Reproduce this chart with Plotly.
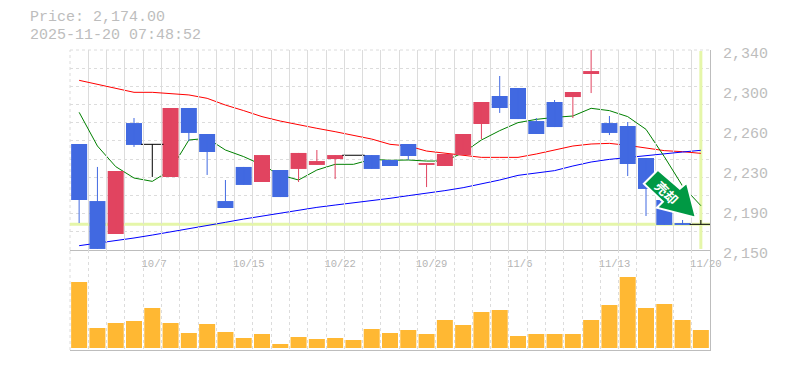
import plotly.graph_objects as go

# ---- data ----
opens = [2250.7,2196.5,2165.2,2270.6,2250.4,2219.4,2284.9,2260.2,2196.5,2228.9,2214.6,2226.0,2227.0,2230.8,2236.4,2240.0,2240.2,2235.5,2250.7,2230.8,2229.8,2240.2,2269.7,2296.3,2303.9,2272.5,2290.6,2295.3,2317.2,2270.6,2267.8,2237.4,2197.5,2175.6,2174.4]
closes = [2197.5,2151.0,2225.0,2249.8,2250.4,2284.9,2261.2,2243.1,2189.9,2211.8,2240.2,2200.3,2242.2,2234.5,2240.2,2240.0,2227.0,2229.8,2239.3,2232.6,2241.2,2260.2,2290.6,2284.9,2274.4,2260.2,2266.8,2300.1,2320.0,2261.2,2231.7,2208.0,2173.8,2173.8,2174.4]
highs = [2250.7,2228.9,2225.0,2275.4,2250.4,2284.9,2284.9,2260.2,2216.5,2228.9,2240.2,2226.0,2242.2,2245.0,2240.2,2240.0,2240.2,2235.5,2250.7,2232.6,2241.2,2260.2,2290.6,2315.3,2303.9,2275.4,2292.5,2300.1,2340.0,2277.3,2271.6,2237.4,2197.5,2178.5,2178.5]
lows = [2175.6,2151.0,2165.2,2247.9,2219.4,2219.4,2253.5,2221.3,2189.9,2211.8,2214.6,2200.3,2214.6,2230.8,2217.4,2240.0,2227.0,2229.8,2235.5,2209.8,2229.8,2240.2,2255.4,2280.2,2274.4,2260.2,2266.8,2275.4,2299.1,2259.2,2220.3,2182.3,2173.8,2173.8,2174.4]
ma_short = [2280.8,2248.8,2229.2,2218.4,2215.2,2226.0,2254.5,2256.1,2245.0,2238.7,2230.8,2221.3,2216.5,2226.0,2231.4,2231.4,2236.1,2235.2,2235.5,2234.5,2234.5,2242.5,2254.5,2263.4,2271.0,2274.1,2276.0,2277.3,2284.6,2282.4,2276.7,2264.6,2238.7,2210.8,2192.1]
ma_mid = [2311.2,2307.4,2303.6,2299.8,2299.8,2298.8,2297.3,2294.1,2287.7,2282.4,2276.7,2272.5,2268.7,2265.6,2262.4,2259.2,2255.4,2250.4,2248.8,2244.0,2241.8,2239.6,2238.0,2238.0,2238.0,2241.2,2245.0,2248.8,2250.7,2251.3,2249.4,2247.2,2244.4,2243.4,2241.8]
ma_long = [2154.1,2156.3,2158.5,2161.4,2164.2,2167.4,2170.3,2173.8,2176.3,2179.4,2182.3,2185.1,2188.0,2190.5,2192.7,2194.6,2196.9,2199.1,2201.6,2203.8,2206.4,2209.2,2212.7,2216.5,2220.9,2222.8,2225.4,2229.8,2233.6,2236.1,2238.0,2239.6,2241.8,2243.1,2244.7]
volumes = [198,60,75,81,120,75,45,72,48,30,42,12,33,27,30,24,57,45,54,42,84,69,108,114,36,42,42,42,84,129,213,120,132,84,54]
date_idx = [4,9,14,19,24,29,34]
date_labels = ["10/7\u00a0","10/15","10/22","10/29","11/6\u00a0","11/13","11/20"]
price_ticks = [2150,2188,2226,2264,2302,2340]
price_labels = ["2,150","2,190","2,230","2,260","2,300","2,340"]
last_price = 2174.4

FONT = "Liberation Mono"
GREY = "#BDBDBD"
GRID = "#DCDCDC"
BLUE = "#4169E1"
RED = "#E14460"
W, H = 785, 370
n = len(opens)
idx = list(range(n))
PMIN, PMAX = 2150, 2340
VMIN, VMAX = -6, 294
x_grid = [i - 0.5 for i in range(n + 1)]
y_grid = [PMIN + (PMAX - PMIN) * k / 11 for k in range(12)]

def wick_xy(sel):
    xs, ys = [], []
    for i in sel:
        xs += [i, i, None]
        ys += [lows[i], highs[i], None]
    return xs, ys

up = [i for i in idx if closes[i] > opens[i]]
down = [i for i in idx if closes[i] < opens[i]]
flat = [i for i in idx if closes[i] == opens[i]]

fig = go.Figure()
hl = "#E5F6A9"
fig.add_trace(go.Scatter(x=[-0.5, 34.5], y=[last_price, last_price], mode="lines", line=dict(color=hl, width=3), yaxis="y"))
fig.add_trace(go.Scatter(x=[n - 1, n - 1], y=[PMIN + 1, PMAX - 1], mode="lines", line=dict(color=hl, width=3), yaxis="y"))
fig.add_trace(go.Scatter(x=idx, y=ma_mid, mode="lines", line=dict(color="#FF0000", width=1), yaxis="y"))
fig.add_trace(go.Scatter(x=idx, y=ma_long, mode="lines", line=dict(color="#0000FF", width=1), yaxis="y"))
fig.add_trace(go.Scatter(x=idx, y=ma_short, mode="lines", line=dict(color="#008000", width=1), yaxis="y"))

for sel, col in ((up, RED), (down, BLUE)):
    fig.add_trace(go.Bar(x=sel, y=[abs(closes[i] - opens[i]) for i in sel],
                         base=[min(closes[i], opens[i]) for i in sel],
                         width=0.875, marker=dict(color=col, line=dict(width=0)), yaxis="y4"))
    wx, wy = wick_xy(sel)
    fig.add_trace(go.Scatter(x=wx, y=wy, mode="lines", line=dict(color=col, width=1), yaxis="y4"))
wx, wy = wick_xy(flat)
fig.add_trace(go.Scatter(x=wx, y=wy, mode="lines", line=dict(color="#000000", width=1), yaxis="y4"))
fig.add_trace(go.Scatter(x=flat, y=[closes[i] for i in flat], mode="markers",
                         marker=dict(symbol="line-ew", size=16, line=dict(color="#000000", width=1)), yaxis="y4"))
# carrier for the right-hand price labels
fig.add_trace(go.Scatter(x=[0], y=[PMIN], mode="markers", marker=dict(opacity=0), yaxis="y3"))
fig.add_trace(go.Bar(x=idx, y=volumes, width=0.875, marker=dict(color="#FFB833", line=dict(width=0)), xaxis="x2", yaxis="y2"))

xbase = dict(range=[-0.5, n - 0.5], showgrid=False, zeroline=False, showline=True, linecolor=GREY, linewidth=1,
             minor=dict(tickvals=x_grid, showgrid=True, gridcolor=GRID, griddash="3px,3px", gridwidth=1, ticks=""))
edge = dict(color=GRID, width=1, dash="3px,3px")
fig.update_layout(
    width=W, height=H, margin=dict(l=0, r=0, t=0, b=0, pad=0, autoexpand=False), autosize=False,
    paper_bgcolor="#FFFFFF", plot_bgcolor="rgba(0,0,0,0)", showlegend=False, barmode="overlay", hovermode=False,
    font=dict(family=FONT, color=GREY),
    xaxis=dict(xbase, domain=[70 / W, 710 / W], anchor="y", tickmode="array", tickvals=date_idx, ticktext=date_labels,
               tickfont=dict(size=10.5, color="#B4B4B4", family=FONT), ticks="outside", ticklen=3, tickcolor="rgba(0,0,0,0)", ticklabelshift=5),
    xaxis2=dict(xbase, domain=[70 / W, 710 / W], anchor="y2", showticklabels=False, ticks=""),
    yaxis=dict(domain=[1 - 250 / H, 1 - 50 / H], range=[PMIN, PMAX], side="right", anchor="x", showticklabels=False,
               tickmode="array", tickvals=y_grid, ticks="", showgrid=True, gridcolor=GRID, griddash="3px,3px", zeroline=False,
               showline=True, linecolor=GREY),
    yaxis4=dict(overlaying="y", range=[PMIN, PMAX], visible=False, anchor="x"),
    yaxis2=dict(domain=[1 - 350 / H, 1 - 250 / H], range=[VMIN, VMAX], side="right", anchor="x2", showticklabels=False,
                ticks="", showgrid=False, zeroline=False, showline=True, linecolor=GREY),
    yaxis3=dict(domain=[1 - 253 / H, 1 - 53 / H], range=[PMIN, PMAX], side="right", anchor="x", showgrid=False, zeroline=False,
                tickmode="array", tickvals=price_ticks, ticktext=price_labels, ticks="outside", ticklen=9,
                tickcolor="rgba(0,0,0,0)", tickfont=dict(size=15, color=GREY, family=FONT), showline=False),
    shapes=[
        dict(type="line", xref="x domain", yref="y domain", x0=0, x1=1, y0=1, y1=1, line=edge, layer="below"),
        dict(type="line", xref="x domain", yref="y domain", x0=0, x1=0, y0=0, y1=1, line=edge, layer="below"),
        dict(type="line", xref="x2 domain", yref="y2 domain", x0=0, x1=0, y0=0, y1=1, line=edge, layer="below"),
        dict(type="path", xref="x", yref="y", xsizemode="pixel", ysizemode="pixel", xanchor=n - 1, yanchor=last_price,
             path="M-43,54.6 L-57,40.6 L-38,22.6 L-44,16.6 L-5,6.6 L-14,41.6 L-21,35.6 Z",
             fillcolor="#009944", line=dict(color="#FFFFFF", width=2), layer="above"),
    ],
    annotations=[
        dict(text="Price: 2,174.00", xref="paper", yref="paper", x=30 / W, y=1 - 18 / H, xanchor="left", yanchor="middle",
             showarrow=False, font=dict(size=15, color=GREY, family=FONT), borderpad=0, borderwidth=0),
        dict(text="2025-11-20 07:48:52", xref="paper", yref="paper", x=30 / W, y=1 - 35 / H, xanchor="left", yanchor="middle",
             showarrow=False, font=dict(size=15, color=GREY, family=FONT), borderpad=0, borderwidth=0),
        dict(text="<b>売却</b>", xref="x", yref="y", x=n - 1, y=last_price, xshift=-34, yshift=32, textangle=45, showarrow=False,
             font=dict(size=13, color="#FFFFFF", family="Noto Sans CJK JP")),
    ],
)
fig.write_html("out.html", config=dict(displayModeBar=False, staticPlot=True),
               post_script="document.body.style.margin='0';document.documentElement.style.overflow='hidden';")
